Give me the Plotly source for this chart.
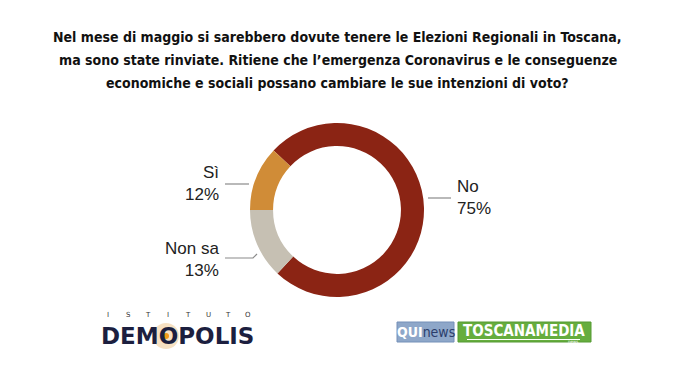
import plotly.graph_objects as go

W, H = 675, 380

# ---- data ----
categories = ["No", "Non sa", "Sì"]
values = [75, 13, 12]
colors = ["#8b2414", "#c6c0b3", "#d08c37"]
title_lines = [
    "Nel mese di maggio si sarebbero dovute tenere le Elezioni Regionali in Toscana,",
    "ma sono state rinviate. Ritiene che l\u2019emergenza Coronavirus e le conseguenze",
    "economiche e sociali possano cambiare le sue intenzioni di voto?",
]

COND = "DejaVu Sans Condensed"

def px(x):
    return x / W

def py(y):
    return 1 - y / H

fig = go.Figure()
fig.add_trace(go.Pie(
    labels=categories,
    values=values,
    marker=dict(colors=colors, line=dict(width=0)),
    hole=0.735,
    sort=False,
    direction="clockwise",
    rotation=-46.8,
    textinfo="none",
    hoverinfo="label+percent",
    showlegend=False,
    domain=dict(x=[px(250), px(424)], y=[py(297), py(123)]),
))

annotations = []
shapes = []

# title (one annotation per line to match the 23px line spacing)
for i, line in enumerate(title_lines):
    annotations.append(dict(
        x=0.5, y=py(37 + 23 * i), xref="paper", yref="paper",
        xanchor="center", yanchor="middle",
        text=line, showarrow=False, align="center",
        font=dict(family=COND, size=14, color="#111111", weight="bold"),
    ))

lab_font = dict(family="Liberation Sans, Arial, sans-serif", size=17, color="#222222")
label_pos = {
    "No": dict(x=455, y=198, xanchor="left", align="left"),
    "Sì": dict(x=221, y=184, xanchor="right", align="right"),
    "Non sa": dict(x=221, y=259, xanchor="right", align="right"),
}
for c, v in zip(categories, values):
    p = label_pos[c]
    annotations.append(dict(
        x=px(p["x"]), y=py(p["y"]), xref="paper", yref="paper",
        xanchor=p["xanchor"], yanchor="middle", align=p["align"],
        text=f"{c}<br>{v}%", showarrow=False, font=lab_font,
    ))

line_style = dict(color="#8a8a8a", width=1.2)
shapes.append(dict(type="line", xref="paper", yref="paper",
                   x0=px(428), x1=px(451), y0=py(198), y1=py(198), line=line_style))
shapes.append(dict(type="line", xref="paper", yref="paper",
                   x0=px(225), x1=px(249), y0=py(184), y1=py(184), line=line_style))
shapes.append(dict(type="path", xref="paper", yref="paper",
                   path=f"M {px(225)},{py(258)} L {px(253)},{py(258)} L {px(257)},{py(254)}",
                   line=line_style))

# ---- Demopolis logo ----
shapes.append(dict(type="circle", xref="paper", yref="paper",
                   x0=px(153), x1=px(179), y0=py(349), y1=py(323),
                   fillcolor="#f0c890", opacity=0.55, line=dict(width=0)))
annotations.append(dict(
    x=px(100), y=py(336), xref="paper", yref="paper", xanchor="left", yanchor="middle",
    text="<b>DEMOPOLIS</b>", showarrow=False, borderpad=0,
    font=dict(family="DejaVu Sans", size=23, color="#1c1f3f"),
))
shapes.append(dict(type="circle", xref="paper", yref="paper",
                   x0=px(163), x1=px(169), y0=py(339), y1=py(333),
                   fillcolor="#f29a1a", line=dict(width=0)))
for i, ch in enumerate("ISTITUTO"):
    annotations.append(dict(
        x=px(108 + i * 20.0), y=py(315), xref="paper", yref="paper",
        xanchor="center", yanchor="middle", text=ch, showarrow=False, borderpad=0,
        font=dict(family="DejaVu Sans", size=7, color="#333333"),
    ))

# ---- QUInews / TOSCANAMEDIA logos ----
shapes.append(dict(type="rect", xref="paper", yref="paper",
                   x0=px(397), x1=px(454), y0=py(342), y1=py(322),
                   fillcolor="#8ea7c9", line=dict(color="#7590b8", width=1)))
annotations.append(dict(
    x=px(425.5), y=py(332), xref="paper", yref="paper", xanchor="center", yanchor="middle",
    text="<b><span style='color:#ffffff'>QUI</span></b><span style='color:#2b3d6b'>news</span>",
    showarrow=False, font=dict(family=COND, size=14, color="#ffffff"),
))
shapes.append(dict(type="rect", xref="paper", yref="paper",
                   x0=px(458), x1=px(591), y0=py(342), y1=py(322),
                   fillcolor="#66ad3e", line=dict(color="#559a32", width=1)))
annotations.append(dict(
    x=px(524), y=py(331), xref="paper", yref="paper", xanchor="center", yanchor="middle",
    text="<b>TOSCANAMEDIA</b>", showarrow=False,
    font=dict(family=COND, size=15, color="#ffffff"),
))
shapes.append(dict(type="line", xref="paper", yref="paper",
                   x0=px(467), x1=px(580), y0=py(339.5), y1=py(339.5),
                   line=dict(color="#ffffff", width=1)))
annotations.append(dict(
    x=px(580), y=py(341), xref="paper", yref="paper", xanchor="right", yanchor="middle",
    text="news", showarrow=False,
    font=dict(family="DejaVu Sans", size=4, color="#ffffff"),
))

fig.update_layout(
    width=W, height=H,
    margin=dict(l=0, r=0, t=0, b=0),
    paper_bgcolor="#ffffff",
    plot_bgcolor="#ffffff",
    annotations=annotations,
    shapes=shapes,
)

fig.write_html("out.html", config={"displayModeBar": False},
               post_script="document.body.style.margin='0';")
